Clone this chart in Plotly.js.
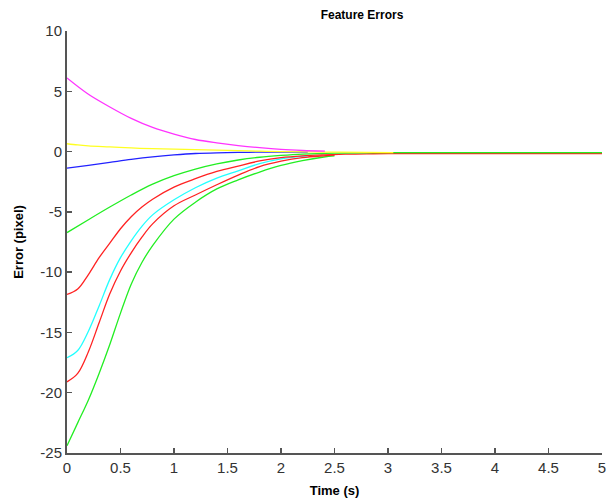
<!DOCTYPE html>
<html>
<head>
<meta charset="utf-8">
<script src="https://cdn.plot.ly/plotly-3.0.1.min.js"></script>
<style>html,body{margin:0;padding:0;background:#fff;}#chart{width:607px;height:499px;}</style>
</head>
<body>
<div id="chart"></div>
<script>
// Time samples (s) and feature error values (pixel)
const tMagenta = [0, 0.2, 0.4, 0.6, 0.8, 1.0, 1.2, 1.4, 1.6, 1.8, 2.0, 2.2, 2.41];
const yMagenta = [6.1, 4.75, 3.7, 2.75, 2.0, 1.45, 1.0, 0.72, 0.5, 0.32, 0.18, 0.09, 0.03];

const tBlue = [0, 0.2, 0.4, 0.6, 0.8, 1.0, 1.2, 1.4, 1.6, 1.8, 2.0, 2.25];
const yBlue = [-1.38, -1.15, -0.9, -0.65, -0.44, -0.28, -0.16, -0.1, -0.07, -0.05, -0.05, -0.05];

const tCyan = [0, 0.1, 0.2, 0.3, 0.4, 0.5, 0.6, 0.7, 0.8, 1.0, 1.2, 1.4, 1.6, 1.8, 2.0, 2.25];
const yCyan = [-17.1, -16.5, -14.9, -12.8, -10.6, -8.8, -7.4, -6.2, -5.25, -4.0, -3.0, -2.2, -1.6, -1.0, -0.6, -0.35];

const tRed2 = [0, 0.1, 0.2, 0.3, 0.4, 0.5, 0.6, 0.7, 0.8, 1.0, 1.2, 1.4, 1.6, 1.8, 2.0, 2.2, 2.4, 2.5];
const yRed2 = [-19.1, -18.4, -16.6, -14.2, -11.8, -9.9, -8.4, -7.1, -6.0, -4.5, -3.6, -2.75, -1.95, -1.25, -0.8, -0.5, -0.35, -0.3];

const tGreen2 = [0, 0.1, 0.2, 0.3, 0.4, 0.5, 0.6, 0.7, 0.8, 1.0, 1.2, 1.4, 1.6, 1.8, 2.0, 2.2, 2.4, 2.5];
const yGreen2 = [-24.4, -22.5, -20.6, -18.4, -16.0, -13.4, -11.0, -9.2, -7.8, -5.6, -4.2, -3.1, -2.35, -1.7, -1.15, -0.75, -0.45, -0.35];

const tRed1 = [0, 0.1, 0.2, 0.3, 0.4, 0.5, 0.6, 0.7, 0.8, 1.0, 1.2, 1.4, 1.6, 1.8, 2.0, 2.2, 2.4, 2.6, 2.8, 3.0, 4.0, 5.0];
const yRed1 = [-11.85, -11.4, -10.2, -8.8, -7.6, -6.4, -5.4, -4.6, -3.95, -2.95, -2.25, -1.65, -1.2, -0.78, -0.5, -0.35, -0.27, -0.22, -0.19, -0.17, -0.17, -0.17];

const tGreen1 = [0, 0.2, 0.4, 0.6, 0.8, 1.0, 1.2, 1.4, 1.6, 1.8, 2.0, 2.2, 2.5, 3.0, 4.0, 5.0];
const yGreen1 = [-6.72, -5.65, -4.6, -3.6, -2.7, -2.0, -1.45, -1.02, -0.7, -0.47, -0.32, -0.21, -0.13, -0.09, -0.08, -0.08];

const tYellow = [0, 0.1, 0.2, 0.4, 0.6, 0.8, 1.0, 1.2, 1.4, 1.6, 1.8, 2.0, 2.4, 2.8, 3.05];
const yYellow = [0.65, 0.55, 0.48, 0.39, 0.3, 0.24, 0.2, 0.16, 0.12, 0.08, 0.03, 0.0, -0.04, -0.07, -0.08];

const xTicks = [0, 0.5, 1, 1.5, 2, 2.5, 3, 3.5, 4, 4.5, 5];
const yTicks = [-25, -20, -15, -10, -5, 0, 5, 10];

function line(t, y, color) {
  return {x: t, y: y, type: 'scatter', mode: 'lines',
          line: {color: color, width: 1.3, shape: 'spline', smoothing: 1}, hoverinfo: 'skip'};
}

const traces = [
  line(tGreen2, yGreen2, '#22ee22'),
  line(tRed2, yRed2, '#ff2222'),
  line(tCyan, yCyan, '#22ffff'),
  line(tRed1, yRed1, '#ff2222'),
  line(tGreen1, yGreen1, '#22ee22'),
  line(tBlue, yBlue, '#2222ff'),
  line(tYellow, yYellow, '#ffff22'),
  line(tMagenta, yMagenta, '#ff33ff')
];

const tickFont = {family: 'Liberation Sans, Arial, sans-serif', size: 15, color: '#333333'};
const labelFont = {family: 'Liberation Sans, Arial, sans-serif', size: 13, color: '#000000'};

const layout = {
  width: 607, height: 499,
  margin: {l: 67, r: 5, t: 31, b: 46},
  paper_bgcolor: '#ffffff', plot_bgcolor: '#ffffff',
  showlegend: false,
  title: {text: '<b>Feature Errors</b>', font: {family: 'Liberation Sans, Arial, sans-serif', size: 12, color: '#000'},
          x: 0.5515, xref: 'paper', y: 0.97, yref: 'container', yanchor: 'middle'},
  xaxis: {
    range: [0, 5], tickvals: xTicks, ticktext: xTicks.map(String),
    ticks: 'inside', ticklen: 5, tickwidth: 1.5, tickcolor: '#555555',
    showline: true, linecolor: '#555555', linewidth: 2, mirror: false,
    showgrid: false, zeroline: false, tickfont: tickFont,
    title: {text: '<b>Time (s)</b>', font: labelFont, standoff: 11}
  },
  yaxis: {
    range: [-25, 10], tickvals: yTicks, ticktext: yTicks.map(String),
    ticks: 'inside', ticklen: 5, tickwidth: 1.5, tickcolor: '#555555',
    showline: true, linecolor: '#555555', linewidth: 2, mirror: false,
    showgrid: false, zeroline: false, tickfont: tickFont,
    title: {text: '<b>Error (pixel)</b>', font: labelFont, standoff: 14}
  }
};

Plotly.newPlot('chart', traces, layout, {displayModeBar: false, staticPlot: true});
</script>
</body>
</html>
